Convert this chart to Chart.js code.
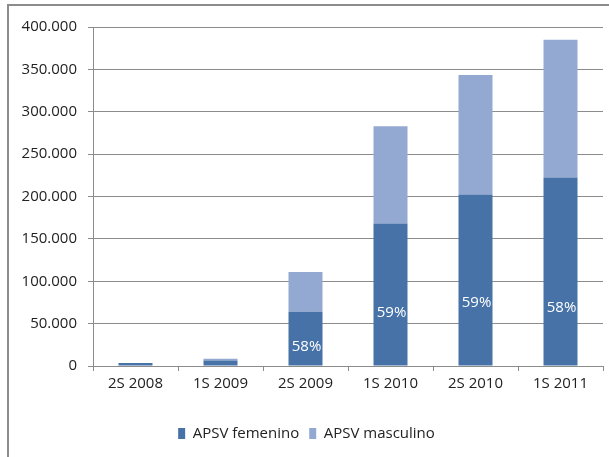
<!DOCTYPE html>
<html>
<head>
<meta charset="utf-8">
<script src="https://cdn.jsdelivr.net/npm/chart.js@4.4.1/dist/chart.umd.min.js"></script>
<style>
  html, body { margin: 0; padding: 0; background: #fff; }
  #wrap { position: relative; width: 609px; height: 457px; overflow: hidden; }
  #frame { position: absolute; left: 7px; top: 4px; right: -5px; bottom: -5px;
           border-top: 2px solid #8c8c8c; border-left: 2px solid #8c8c8c; }
  canvas { position: absolute; left: 0; top: 0; }
</style>
</head>
<body>
<div id="wrap">
  <div id="frame"></div>
  <canvas id="myChart" width="609" height="457"></canvas>
</div>
<script>
// Chart data
const periods = ["2S 2008", "1S 2009", "2S 2009", "1S 2010", "2S 2010", "1S 2011"];
const femenino = [3500, 6500, 64000, 168000, 202500, 222500];
const masculino = [0, 2000, 47000, 115000, 141000, 162500];
const pctLabels = ["", "", "58%", "59%", "59%", "58%"];
const yTicks = [0, 50000, 100000, 150000, 200000, 250000, 300000, 350000, 400000];

const fontFamily = "'Open Sans', sans-serif";

function fmt(v) {
	return v.toString().replace(/\B(?=(\d{3})+(?!\d))/g, ".");
}

// Percentage labels inside the dark bars
const pctPlugin = {
	id: "pctLabels",
	afterDatasetsDraw(chart, args, opts) {
		const ctx = chart.ctx;
		const meta = chart.getDatasetMeta(0);
		const y = chart.scales.y;
		ctx.save();
		ctx.fillStyle = "#ffffff";
		ctx.font = "15px " + fontFamily;
		ctx.textAlign = "center";
		ctx.textBaseline = "middle";
		pctLabels.forEach(function (txt, i) {
			if (!txt) return;
			ctx.fillText(txt, meta.data[i].x + 1, y.getPixelForValue(opts.at[i]));
		});
		ctx.restore();
	},
};

const ctx = document.getElementById("myChart").getContext("2d");
const myChart = new Chart(ctx, {
	type: "bar",
	data: {
		labels: periods,
		datasets: [
			{
				label: "APSV femenino",
				data: femenino,
				backgroundColor: "#4672a8",
				barPercentage: 0.4,
				categoryPercentage: 1,
			},
			{
				label: "APSV masculino",
				data: masculino,
				backgroundColor: "#94a9d1",
				barPercentage: 0.4,
				categoryPercentage: 1,
			},
		],
	},
	options: {
		responsive: false,
		animation: false,
		layout: { padding: { top: 27, left: 10, right: 6, bottom: 6 } },
		scales: {
			x: {
				stacked: true,
				grid: {
					display: true,
					drawOnChartArea: false,
					drawTicks: true,
					tickLength: 5,
					color: "#8c8c8c",
					offset: true,
				},
				border: { color: "#8c8c8c", width: 1 },
				ticks: {
					color: "#222",
					padding: 4,
					maxRotation: 0,
					font: { family: fontFamily, size: 15 },
				},
				afterFit(scale) {
					scale.height = 50;
				},
			},
			y: {
				stacked: true,
				min: 0,
				max: 400000,
				afterBuildTicks(scale) {
					scale.ticks = yTicks.map(function (v) { return { value: v }; });
				},
				grid: {
					color: "#8c8c8c",
					tickLength: 5,
				},
				border: { color: "#8c8c8c", width: 1 },
				ticks: {
					color: "#222",
					padding: 11,
					font: { family: fontFamily, size: 15 },
					callback: function (v) { return fmt(v); },
				},
				afterFit(scale) {
					scale.width = 83;
				},
			},
		},
		plugins: {
			legend: {
				position: "bottom",
				labels: {
					boxWidth: 7,
					boxHeight: 11,
					padding: 10,
					color: "#222",
					font: { family: fontFamily, size: 15 },
				},
			},
			tooltip: { enabled: false },
			pctLabels: { at: [0, 0, 22500, 62700, 74600, 68600] },
		},
	},
	plugins: [pctPlugin],
});
</script>
</body>
</html>
